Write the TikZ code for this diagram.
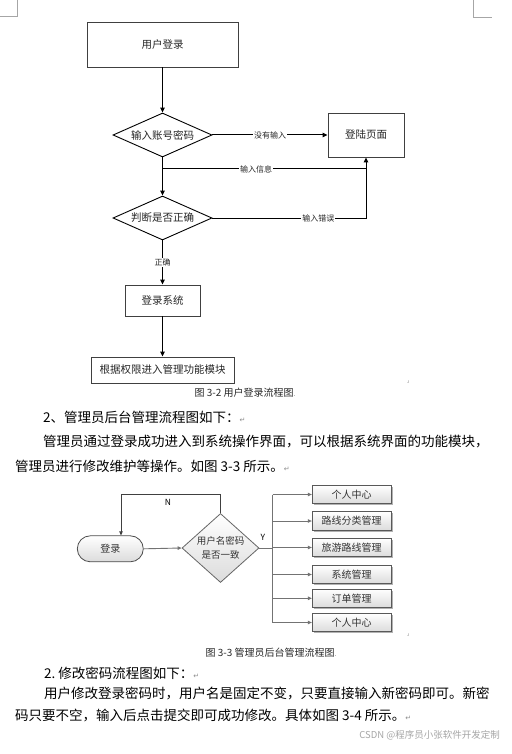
\documentclass[tikz,border=0pt]{standalone}
\usepackage{fontspec}
\setmainfont{Noto Sans CJK SC}
\newfontfamily\dejavu{DejaVu Sans}
\usetikzlibrary{arrows.meta,shapes.geometric,shadows}
\newcommand\fsz[2]{\fontsize{#1}{#2}\selectfont}
\newcommand\pmark{{\dejavu\fsz{7}{8}\color{black!45}↵}}
\tikzset{
  fbox/.style={draw=black!75, line width=0.9pt, inner sep=0pt, font=\fsz{10.5}{12}, text=black!85},
  fdia/.style={diamond, draw=black, line width=0.9pt, aspect=2.25, inner sep=0pt,
               minimum width=99, minimum height=44, font=\fsz{10.5}{12}, text=black!85},
  lab/.style={fill=white, inner sep=1pt, font=\fsz{8}{9}, text=black!85},
  arr/.style={draw=black, line width=1pt, -{Triangle[length=5pt,width=4.5pt]}},
  ln/.style={draw=black, line width=1pt},
  gfill/.style={top color=white, bottom color=black!14},
  term/.style={draw=black!70, line width=0.8pt, rounded corners=13pt, minimum width=66,
               minimum height=26, inner sep=0pt, gfill, font=\fsz{10}{12}, text=black!80},
  gdia/.style={diamond, draw=black!60, line width=0.8pt, aspect=1.1, inner sep=0pt,
               minimum width=77, minimum height=69, gfill, align=center, font=\fsz{9.5}{14}, text=black!80},
  gbox/.style={draw=black!65, line width=0.7pt, minimum width=79, minimum height=18.5,
               inner sep=0pt, gfill, font=\fsz{10}{12}, text=black!80,
               drop shadow={shadow xshift=1.6pt, shadow yshift=-1.6pt, fill=black!50, opacity=0.6}},
  garr/.style={draw=black!55, line width=0.9pt, -{Triangle[length=4pt,width=3.5pt]}},
  gln/.style={draw=black!55, line width=0.9pt},
  body/.style={anchor=west, inner sep=0pt, font=\fsz{13.5}{16}},
  captxt/.style={inner sep=0pt, font=\fsz{10}{12}, text=black!85},
  pm/.style={inner sep=0pt, font=\dejavu\fsz{5}{6}, text=black!45},
  corner/.style={draw=black!35, line width=0.8pt}
}
\begin{document}
\begin{tikzpicture}[x=1pt,y=-1pt]
\useasboundingbox[fill=white] (0,0) rectangle (511,754);
% page corner marks
\coordinate (cl1) at (0,16); \coordinate (cl2) at (17,16); \coordinate (cl3) at (17,0);
\draw[corner] (cl1) -- (cl2) -- (cl3);
\coordinate (cr1) at (473,0); \coordinate (cr2) at (473,17); \coordinate (cr3) at (492,17);
\draw[corner] (cr1) -- (cr2) -- (cr3);

% ---------- flowchart 1 ----------
\node[fbox, minimum width=151, minimum height=45] (login) at (162.5,44.5) {用户登录};
\node[fdia] (d1) at (162.5,135) {输入账号密码};
\node[fbox, minimum width=76, minimum height=44] (page) at (366,135) {登陆页面};
\node[fdia] (d2) at (162.5,218) {判断是否正确};
\node[fbox, minimum width=75, minimum height=31] (sys) at (162.5,300.5) {登录系统};
\node[fbox, minimum width=143, minimum height=26] (mod) at (162.5,370) {根据权限进入管理功能模块};
\coordinate (j1) at (162.5,169);

\draw[arr] (login) -- (d1);
\draw[arr] (d1.east) -- node[lab] {没有输入} (page.west);
\draw[arr] (d1.south) -- (d2.north);
\draw[ln] (j1) -- node[lab, pos=0.46] {输入信息} (j1 -| page.south);
\draw[arr] (d2.east) -- node[lab, pos=0.69] {输入错误} (d2.east -| page.south) -- (page.south);
\draw[arr] (d2.south) -- node[lab] {正确} (sys.north);
\draw[arr] (sys.south) -- (mod.north);
\node[pm] (m1) at (408,382) {.ı};

% caption and text
\node[captxt] (cap1) at (245,393) {图 3-2 用户登录流程图{\fsz{6}{6}.}};
\node[body] (t1) at (43,417) {2、管理员后台管理流程图如下：\pmark};
\node[body] (t2) at (43,442) {管理员通过登录成功进入到系统操作界面，可以根据系统界面的功能模块，};
\node[body] (t3) at (15,466) {管理员进行修改维护等操作。如图 3-3 所示。\pmark};

% ---------- flowchart 2 ----------
\node[term] (t) at (110.3,548.8) {登录};
\node[gdia] (dd) at (220.5,548) {用户名密码\\是否一致};
\node[gbox] (b1) at (351.7,494.5) {个人中心};
\node[gbox] (b2) at (351.7,521) {路线分类管理};
\node[gbox] (b3) at (351.7,547.5) {旅游路线管理};
\node[gbox] (b4) at (351.7,574.5) {系统管理};
\node[gbox] (b5) at (351.7,598.3) {订单管理};
\node[gbox] (b6) at (351.7,622.5) {个人中心};
\coordinate (lp) at (121,494.5);
\coordinate (bt) at (272.7,494.5);
\coordinate (bb) at (272.7,623);

\draw[garr] (t.east) -- (dd.west);
\draw[draw=black!75, line width=0.9pt, -{Triangle[length=4pt,width=3.5pt]}]
  (dd.north) |- (lp) -- (lp |- t.north);
\node[inner sep=0pt, font=\fsz{8.5}{10}] (N) at (168,502) {N};
\draw[gln] (dd.east) -- (dd.east -| bt);
\node[inner sep=0pt, font=\fsz{8.5}{10}] (Y) at (263,537) {Y};
\draw[gln] (bt) -- (bb);
\foreach \b in {b1,b2,b3,b4,b5,b6}{
  \draw[garr] (bt |- \b.west) -- (\b.west);
}
\node[pm] (m2) at (408,635) {.ı};

% caption and text
\node[captxt] (cap2) at (271,653) {图 3-3 管理员后台管理流程图{\fsz{6}{6}.}};
\node[body] (t4) at (44,673) {2.\ 修改密码流程图如下：\pmark};
\node[body] (t5) at (44,693) {用户修改登录密码时，用户名是固定不变，只要直接输入新密码即可。新密};
\node[body] (t6) at (15,715) {码只要不空，输入后点击提交即可成功修改。具体如图 3-4 所示。\pmark};
\node[anchor=east, inner sep=0pt, font=\fsz{9.5}{11}, text=black!35] (wm) at (500,735) {CSDN @程序员小张软件开发定制};
\end{tikzpicture}
\end{document}
